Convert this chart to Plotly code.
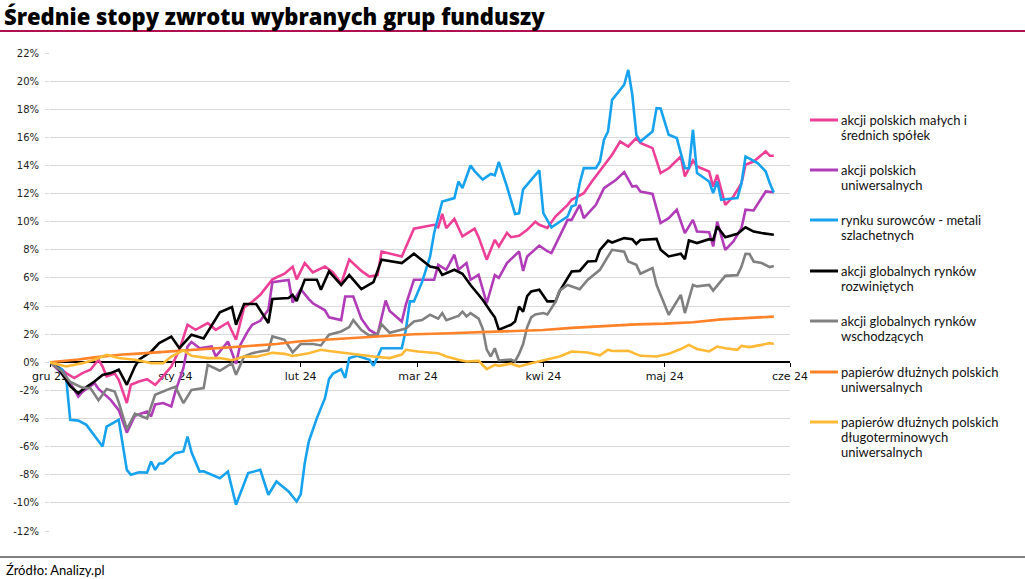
import plotly.graph_objects as go

# ---------------- data ----------------
series_names = [
    "akcji polskich małych i<br>średnich spółek",
    "akcji polskich<br>uniwersalnych",
    "rynku surowców - metali<br>szlachetnych",
    "akcji globalnych rynków<br>rozwiniętych",
    "akcji globalnych rynków<br>wschodzących",
    "papierów dłużnych polskich<br>uniwersalnych",
    "papierów dłużnych polskich<br>długoterminowych<br>uniwersalnych",
]
series_colors = ["#ee3f97", "#b03cb8", "#17a2ee", "#000000", "#808080", "#ff8128", "#ffb935"]

pink_dates = ["2023-12-01","2023-12-03","2023-12-05","2023-12-07","2023-12-09","2023-12-11","2023-12-13","2023-12-14","2023-12-15","2023-12-17","2023-12-18","2023-12-20","2023-12-21","2023-12-23","2023-12-25","2023-12-27","2023-12-28","2023-12-31",
              "2024-01-02","2024-01-04","2024-01-06","2024-01-09","2024-01-11","2024-01-14","2024-01-16","2024-01-18","2024-01-20","2024-01-22","2024-01-25","2024-01-28","2024-01-30","2024-01-31",
              "2024-02-02","2024-02-04","2024-02-07","2024-02-09","2024-02-11","2024-02-13","2024-02-16","2024-02-18","2024-02-20","2024-02-21","2024-02-26","2024-02-29",
              "2024-03-05","2024-03-06","2024-03-07","2024-03-08","2024-03-10","2024-03-12","2024-03-15","2024-03-16","2024-03-18","2024-03-20","2024-03-21","2024-03-23","2024-03-24","2024-03-26","2024-03-28","2024-03-30","2024-03-31",
              "2024-04-02","2024-04-04","2024-04-07","2024-04-08","2024-04-11","2024-04-13","2024-04-16","2024-04-18","2024-04-20","2024-04-22","2024-04-24","2024-04-25","2024-04-28","2024-04-30",
              "2024-05-02","2024-05-05","2024-05-06","2024-05-08","2024-05-09","2024-05-12","2024-05-13","2024-05-14","2024-05-16","2024-05-18","2024-05-20","2024-05-21","2024-05-23","2024-05-26","2024-05-27","2024-05-28"]
pink_vals = [0,-0.3,-0.77,-1.12,-0.77,-0.53,0.18,-0.3,-1.0,-0.8,-1.24,-2.9,-1.6,-1.37,-1.2,-1.6,-1.3,-0.3,
             0.89,2.67,2.31,2.79,2.31,2.83,1.6,3.9,4.3,4.8,5.9,6.3,6.8,5.9,
             7.06,6.4,6.81,6.4,5.6,7.3,6.5,6.1,6.2,7.88,7.53,9.5,
             9.78,9.6,10.55,9.55,10.2,8.95,9.5,8.9,7.3,8.71,8.24,9.2,8.9,9.0,9.42,10.0,9.78,
             9.55,10.37,11.2,11.56,12.03,12.86,14.05,14.76,15.7,15.35,15.95,15.6,15.23,13.46,
             13.8,14.64,13.22,14.35,13.93,13.57,12.5,13.34,11.2,11.79,12.74,14.05,14.28,15.0,14.69,14.69]

purple_dates = ["2023-12-01","2023-12-03","2023-12-06","2023-12-08","2023-12-09","2023-12-12","2023-12-13","2023-12-16","2023-12-18","2023-12-20","2023-12-22","2023-12-25","2023-12-26","2023-12-27","2023-12-29","2023-12-31",
                "2024-01-01","2024-01-03","2024-01-04","2024-01-05","2024-01-07","2024-01-10","2024-01-11","2024-01-14","2024-01-16","2024-01-17","2024-01-19","2024-01-20","2024-01-22","2024-01-24","2024-01-25","2024-01-29","2024-01-30",
                "2024-02-01","2024-02-03","2024-02-04","2024-02-07","2024-02-08","2024-02-11","2024-02-12","2024-02-14","2024-02-16","2024-02-18","2024-02-20","2024-02-22","2024-02-23","2024-02-26","2024-02-27","2024-02-29",
                "2024-03-05","2024-03-06","2024-03-08","2024-03-10","2024-03-11","2024-03-13","2024-03-14","2024-03-16","2024-03-18","2024-03-20","2024-03-21","2024-03-23","2024-03-25","2024-03-26","2024-03-27","2024-03-28","2024-03-31",
                "2024-04-02","2024-04-03","2024-04-05","2024-04-07","2024-04-08","2024-04-10","2024-04-11","2024-04-14","2024-04-16","2024-04-19","2024-04-21","2024-04-23","2024-04-24","2024-04-25","2024-04-28","2024-04-30",
                "2024-05-02","2024-05-04","2024-05-06","2024-05-08","2024-05-09","2024-05-12","2024-05-13","2024-05-14","2024-05-16","2024-05-18","2024-05-20","2024-05-21","2024-05-23","2024-05-26","2024-05-28"]
purple_vals = [0,-0.53,-1.48,-2.43,-2.1,-1.48,-1.9,-2.67,-3.4,-5.0,-3.8,-3.5,-3.85,-3.0,-2.9,-3.14,
               -2.08,-0.4,1.12,1.45,1.0,1.12,0.41,1.48,-0.1,1.2,2.25,2.67,2.95,3.73,5.7,5.85,4.25,
               5.2,4.5,4.2,3.7,3.2,3.0,4.68,4.68,3.1,2.3,1.96,4.4,3.65,2.9,4.1,5.87,
               5.87,6.93,6.58,7.65,6.58,7.06,5.87,6.22,4.2,6.2,6.0,7.06,7.6,7.88,6.5,7.53,8.3,
               7.9,7.77,9.0,10.13,10.13,11.2,10.25,11.2,12.39,12.98,13.53,12.5,12.55,12.15,11.98,9.9,
               10.25,10.85,9.19,10.13,9.3,9.25,8.24,10.0,8.0,8.6,9.55,10.85,10.8,12.15,12.1]

blue_dates = ["2023-12-01","2023-12-04","2023-12-05","2023-12-06","2023-12-08","2023-12-10","2023-12-14","2023-12-15","2023-12-18","2023-12-20","2023-12-21","2023-12-23","2023-12-25","2023-12-26","2023-12-27","2023-12-28","2023-12-29",
              "2024-01-01","2024-01-03","2024-01-04","2024-01-05","2024-01-07","2024-01-08","2024-01-12","2024-01-14","2024-01-16","2024-01-19","2024-01-22","2024-01-24","2024-01-26","2024-01-29","2024-01-31",
              "2024-02-01","2024-02-02","2024-02-03","2024-02-05","2024-02-07","2024-02-08","2024-02-09","2024-02-11","2024-02-12","2024-02-13","2024-02-15","2024-02-18","2024-02-19","2024-02-21","2024-02-26","2024-02-27","2024-02-28","2024-02-29",
              "2024-03-02","2024-03-04","2024-03-05","2024-03-07","2024-03-10","2024-03-11","2024-03-12","2024-03-14","2024-03-15","2024-03-17","2024-03-19","2024-03-20","2024-03-21","2024-03-23","2024-03-25","2024-03-26","2024-03-27","2024-03-29","2024-03-31",
              "2024-04-01","2024-04-03","2024-04-07","2024-04-08","2024-04-09","2024-04-10","2024-04-11","2024-04-14","2024-04-15","2024-04-16","2024-04-17","2024-04-18","2024-04-21","2024-04-22","2024-04-23","2024-04-24","2024-04-25","2024-04-28","2024-04-29","2024-04-30",
              "2024-05-02","2024-05-04","2024-05-06","2024-05-07","2024-05-08","2024-05-09","2024-05-12","2024-05-13","2024-05-14","2024-05-15","2024-05-16","2024-05-19","2024-05-20","2024-05-21","2024-05-24","2024-05-26","2024-05-27","2024-05-28"]
blue_vals = [0,-0.5,-1.1,-4.09,-4.15,-4.45,-5.99,-4.57,-4.09,-7.65,-8.0,-7.82,-7.85,-7.06,-7.65,-7.2,-7.2,
             -6.46,-6.34,-5.28,-6.4,-7.77,-7.75,-8.24,-7.77,-10.13,-7.88,-7.65,-9.42,-8.48,-9.19,-9.9,
             -9.4,-7.17,-5.63,-3.97,-2.55,-1.2,-0.8,-0.5,-1.12,0.3,0.46,0.18,-0.25,1.0,1.0,2.31,4.33,4.33,
             5.7,7.53,9.2,11.44,11.68,12.86,12.4,14.0,13.6,13.0,13.4,13.3,14.25,12.5,10.55,10.6,12.3,13.0,13.65,
             10.61,9.6,10.37,11.08,11.2,12.74,13.81,13.81,14.28,15.83,16.42,18.67,19.74,20.8,19.03,16.18,15.7,16.42,18.08,18.05,
             16.18,15.95,13.81,13.8,16.54,13.46,12.86,12.03,12.86,11.56,11.6,11.68,12.74,14.64,14.17,13.57,12.74,12.08]

black_dates = ["2023-12-01","2023-12-03","2023-12-06","2023-12-08","2023-12-09","2023-12-12","2023-12-14","2023-12-16","2023-12-18","2023-12-20","2023-12-22","2023-12-23","2023-12-26","2023-12-28","2023-12-31",
               "2024-01-02","2024-01-05","2024-01-08","2024-01-12","2024-01-15","2024-01-16","2024-01-18","2024-01-21","2024-01-24","2024-01-25","2024-01-29","2024-01-30","2024-01-31",
               "2024-02-02","2024-02-05","2024-02-06","2024-02-08","2024-02-11","2024-02-13","2024-02-16","2024-02-19","2024-02-21","2024-02-26","2024-02-29",
               "2024-03-04","2024-03-06","2024-03-07","2024-03-10","2024-03-12","2024-03-14","2024-03-15","2024-03-17","2024-03-19","2024-03-20","2024-03-21","2024-03-24","2024-03-25","2024-03-26","2024-03-27","2024-03-28","2024-03-29","2024-03-31",
               "2024-04-02","2024-04-04","2024-04-05","2024-04-08","2024-04-10","2024-04-12","2024-04-14","2024-04-15","2024-04-17","2024-04-18","2024-04-21","2024-04-23","2024-04-24","2024-04-25","2024-04-29","2024-04-30",
               "2024-05-02","2024-05-05","2024-05-06","2024-05-07","2024-05-09","2024-05-12","2024-05-13","2024-05-14","2024-05-16","2024-05-19","2024-05-21","2024-05-23","2024-05-25","2024-05-28"]
black_vals = [0,-0.4,-1.7,-2.2,-1.96,-1.37,-0.9,-0.77,-0.53,-1.6,-0.3,0.18,0.75,1.37,1.83,
              1.0,1.96,1.7,3.55,3.93,2.67,4.15,4.15,2.8,4.5,4.57,4.8,4.35,
              5.87,5.87,5.16,6.46,5.5,6.2,5.2,5.7,7.3,7.06,7.72,
              6.81,6.7,6.22,6.58,6.3,5.5,5.16,4.45,3.6,3.2,2.31,2.67,2.9,3.97,3.6,4.7,5.04,5.16,
              4.33,4.33,5.04,6.46,6.5,7.17,7.2,8.0,8.66,8.52,8.83,8.75,8.43,8.7,8.78,8.0,
              7.53,7.72,7.34,8.66,8.48,8.76,8.7,9.66,8.9,9.14,9.6,9.3,9.19,9.07]

gray_dates = ["2023-12-01","2023-12-04","2023-12-06","2023-12-09","2023-12-11","2023-12-13","2023-12-15","2023-12-17","2023-12-18","2023-12-20","2023-12-22","2023-12-25","2023-12-27","2023-12-29","2023-12-31",
              "2024-01-01","2024-01-03","2024-01-05","2024-01-08","2024-01-09","2024-01-12","2024-01-15","2024-01-16","2024-01-18","2024-01-20","2024-01-22","2024-01-24","2024-01-25","2024-01-28","2024-01-30",
              "2024-02-01","2024-02-04","2024-02-06","2024-02-08","2024-02-11","2024-02-13","2024-02-14","2024-02-16","2024-02-18","2024-02-20","2024-02-21","2024-02-23","2024-02-26","2024-02-27","2024-02-29",
              "2024-03-02","2024-03-04","2024-03-06","2024-03-07","2024-03-08","2024-03-11","2024-03-12","2024-03-13","2024-03-14","2024-03-15","2024-03-16","2024-03-17","2024-03-18","2024-03-19","2024-03-20","2024-03-21","2024-03-24","2024-03-25","2024-03-26","2024-03-27","2024-03-28","2024-03-29","2024-03-30",
              "2024-04-01","2024-04-02","2024-04-04","2024-04-05","2024-04-07","2024-04-10","2024-04-12","2024-04-14","2024-04-15","2024-04-17","2024-04-18","2024-04-21","2024-04-22","2024-04-24","2024-04-25","2024-04-28","2024-04-29",
              "2024-05-02","2024-05-05","2024-05-06","2024-05-08","2024-05-09","2024-05-12","2024-05-13","2024-05-15","2024-05-16","2024-05-19","2024-05-20","2024-05-21","2024-05-22","2024-05-23","2024-05-25","2024-05-27","2024-05-28"]
gray_vals = [0,-0.65,-1.4,-1.8,-1.84,-2.7,-1.9,-2.08,-2.85,-4.75,-3.65,-4.0,-2.31,-2.05,-1.84,
             -1.75,-2.9,-1.96,-1.84,-0.18,-0.6,-0.06,-0.89,0.41,0.65,0.77,0.85,1.84,1.6,0.7,
             1.3,1.3,1.2,1.96,2.19,2.5,3.0,2.3,1.9,2.0,2.7,2.1,2.3,2.4,2.9,
             3.0,3.38,3.1,3.5,3.0,3.3,3.6,3.26,3.5,3.3,3.1,2.4,0.9,0.41,1.0,0.13,0.2,0.06,0.6,1.3,2.5,3.2,3.4,
             3.5,3.4,4.3,5.1,5.5,5.2,5.87,6.3,6.58,7.53,8.0,7.86,7.17,6.93,6.3,6.7,5.5,
             3.38,4.8,3.5,5.5,5.4,5.5,5.1,5.75,6.15,6.2,6.81,7.72,7.7,7.17,7.06,6.77,6.85]

orange_dates = ["2023-12-01","2023-12-05","2023-12-08","2023-12-12","2023-12-15","2023-12-19","2023-12-22","2023-12-27",
                "2024-01-02","2024-01-05","2024-01-10","2024-01-15","2024-01-20","2024-01-26",
                "2024-02-01","2024-02-07","2024-02-14","2024-02-20","2024-02-29",
                "2024-03-07","2024-03-15","2024-03-22","2024-04-01","2024-04-08","2024-04-16","2024-04-24",
                "2024-05-01","2024-05-08","2024-05-15","2024-05-22","2024-05-28"]
orange_vals = [0,0.1,0.2,0.35,0.45,0.55,0.6,0.7,
               0.8,0.9,1.0,1.1,1.2,1.3,
               1.5,1.6,1.75,1.85,2.0,
               2.05,2.12,2.2,2.3,2.45,2.6,2.7,
               2.75,2.85,3.05,3.15,3.25]

yellow_dates = ["2023-12-01","2023-12-05","2023-12-09","2023-12-12","2023-12-15","2023-12-18","2023-12-22","2023-12-26","2023-12-29","2023-12-31",
                "2024-01-03","2024-01-05","2024-01-09","2024-01-12","2024-01-15","2024-01-18","2024-01-21","2024-01-25","2024-01-28","2024-01-30",
                "2024-02-03","2024-02-06","2024-02-08","2024-02-12","2024-02-16","2024-02-19","2024-02-23","2024-02-26","2024-02-27",
                "2024-03-01","2024-03-06","2024-03-08","2024-03-11","2024-03-13","2024-03-16","2024-03-18","2024-03-20","2024-03-21","2024-03-24","2024-03-26","2024-03-29",
                "2024-04-01","2024-04-05","2024-04-08","2024-04-12","2024-04-15","2024-04-17","2024-04-18","2024-04-22","2024-04-25","2024-04-29",
                "2024-05-02","2024-05-05","2024-05-07","2024-05-09","2024-05-12","2024-05-14","2024-05-16","2024-05-19","2024-05-20","2024-05-22","2024-05-25","2024-05-27","2024-05-28"]
yellow_vals = [0,-0.3,-0.06,0.18,0.53,0.3,0.18,-0.06,-0.06,0.41,
               0.85,0.46,0.3,0.3,0.15,0.41,0.4,0.68,0.6,0.45,
               0.65,0.89,0.8,0.65,0.55,0.41,0.3,0.55,0.89,
               0.77,0.65,0.41,0.18,0.06,0.1,-0.48,-0.18,-0.25,-0.1,-0.3,-0.06,
               0.13,0.41,0.77,0.7,0.5,0.89,0.8,0.82,0.46,0.41,
               0.6,0.94,1.24,0.95,0.77,1.12,1.0,0.89,1.17,1.08,1.24,1.36,1.3]

x_tick_vals = ["2023-12-01","2024-01-01","2024-02-01","2024-03-01","2024-04-01","2024-05-01","2024-06-01"]
x_tick_text = ["gru 23","sty 24","lut 24","mar 24","kwi 24","maj 24","cze 24"]
y_tick_vals = [-12,-10,-8,-6,-4,-2,0,2,4,6,8,10,12,14,16,18,20,22]
y_tick_text = ["-12%","-10%","-8%","-6%","-4%","-2%","0%","2%","4%","6%","8%","10%","12%","14%","16%","18%","20%","22%"]

title_text = "Średnie stopy zwrotu wybranych grup funduszy"
source_text = "Źródło: Analizy.pl"

all_dates = [pink_dates, purple_dates, blue_dates, black_dates, gray_dates, orange_dates, yellow_dates]
all_vals = [pink_vals, purple_vals, blue_vals, black_vals, gray_vals, orange_vals, yellow_vals]

# ---------------- layout geometry (pixels) ----------------
W, H = 1025, 579
PL, PT, PR, PB = 50, 53, 790, 531  # plot area
PW, PH = PR - PL, PB - PT

def px(x):
    return (x - PL) / PW

def py(y):
    return (PB - y) / PH

fig = go.Figure()
for d, v, c in zip(all_dates, all_vals, series_colors):
    fig.add_trace(go.Scatter(x=d, y=v, mode="lines", line=dict(color=c, width=2.6),
                             showlegend=False, hoverinfo="skip"))

shapes = [
    dict(type="line", xref="paper", yref="paper", x0=px(0), x1=px(W), y0=py(31), y1=py(31),
         line=dict(color="#b01050", width=2)),
    dict(type="line", xref="paper", yref="paper", x0=px(0), x1=px(W), y0=py(557), y1=py(557),
         line=dict(color="#000000", width=1)),
]
annotations = [
    dict(text=source_text, xref="paper", yref="paper", x=px(4), y=py(570), xanchor="left",
         yanchor="middle", showarrow=False, font=dict(family="Lato", size=13, color="#000000")),
]

legend_top = [120, 170, 220, 271, 321, 372, 422]
LINE_STEP = 15
for name, c, yy in zip(series_names, series_colors, legend_top):
    shapes.append(dict(type="line", xref="paper", yref="paper", x0=px(810), x1=px(838),
                       y0=py(yy), y1=py(yy), line=dict(color=c, width=3)))
    for i, part in enumerate(name.split("<br>")):
        annotations.append(dict(text=part, xref="paper", yref="paper", x=px(839),
                                y=py(yy + i * LINE_STEP), xanchor="left", yanchor="middle",
                                align="left", showarrow=False,
                                font=dict(family="Lato", size=13, color="#111111")))

fig.update_layout(
    width=W, height=H,
    margin=dict(l=PL, r=W - PR, t=PT, b=H - PB, pad=0),
    paper_bgcolor="white", plot_bgcolor="white",
    title=dict(text=title_text, x=4 / W, y=1 - 17 / H, xref="container", yref="container",
               xanchor="left", yanchor="middle",
               font=dict(family="Open Sans", size=22, color="#000000", weight=800)),
    shapes=shapes, annotations=annotations,
    xaxis=dict(type="date", range=["2023-12-01", "2024-06-01"], showgrid=False, zeroline=False,
               tickmode="array", tickvals=x_tick_vals, ticktext=x_tick_text,
               anchor="free", position=12 / 34, showline=True, linecolor="#000000", linewidth=1.5,
               ticks="outside", ticklen=4, tickcolor="#000000", tickwidth=1,
               tickfont=dict(family="DejaVu Sans", size=11, color="#111111"),
               layer="below traces", automargin=False),
    yaxis=dict(range=[-12, 22], tickmode="array", tickvals=y_tick_vals, ticktext=y_tick_text,
               showgrid=True, gridcolor="#d9d9d9", gridwidth=1.3, zeroline=False, showline=False,
               ticks="outside", ticklen=4, tickcolor="#d9d9d9",
               tickfont=dict(family="DejaVu Sans", size=10, color="#222222"),
               ticklabelstandoff=4, automargin=False),
)

fig.write_html("out.html", config={"displayModeBar": False},
               post_script="document.body.style.margin='0';document.body.style.padding='0';")
